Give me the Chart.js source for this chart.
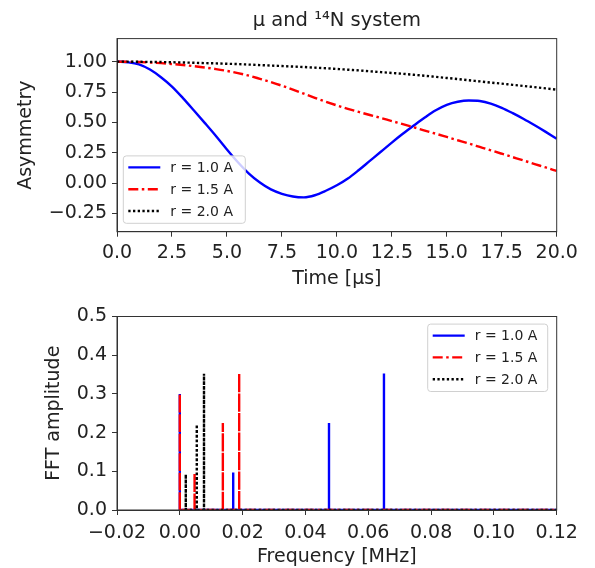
<!DOCTYPE html>
<html>
<head>
<meta charset="utf-8">
<script src="https://cdn.jsdelivr.net/npm/chart.js@4/dist/chart.umd.min.js"></script>
<style>
  body { margin: 0; background: #fff; }
  #top, #bottom { position: absolute; left: 0; }
  #top { top: 0; }
  #bottom { top: 290px; }
</style>
</head>
<body>
<div id="top"><canvas id="asymChart" width="595" height="290"></canvas></div>
<div id="bottom"><canvas id="fftChart" width="595" height="278"></canvas></div>
<script>
// time axis [us]
const timeUs = [0, 0.5, 1, 1.5, 2, 2.5, 3, 3.5, 4, 4.5, 5, 5.5, 6, 6.5, 7, 7.5, 8, 8.5, 9, 9.5,
  10, 10.5, 11, 11.5, 12, 12.5, 13, 13.5, 14, 14.5, 15, 15.5, 16, 16.5, 17, 17.5, 18, 18.5, 19, 19.5, 20];

const asymR10 = [1.000, 0.995, 0.978, 0.935, 0.872, 0.795, 0.700, 0.598, 0.494, 0.388,
  0.277, 0.172, 0.079, 0.005, -0.052, -0.088, -0.110, -0.117, -0.100, -0.063,
  -0.018, 0.038, 0.108, 0.183, 0.258, 0.334, 0.406, 0.474, 0.540, 0.600,
  0.645, 0.670, 0.680, 0.676, 0.655, 0.620, 0.576, 0.528, 0.476, 0.422, 0.366];

const asymR15 = [1.000, 0.999, 0.997, 0.993, 0.988, 0.981, 0.973, 0.963, 0.952, 0.939,
  0.924, 0.906, 0.885, 0.859, 0.832, 0.802, 0.770, 0.736, 0.702, 0.670,
  0.640, 0.612, 0.586, 0.561, 0.537, 0.511, 0.486, 0.460, 0.433, 0.407,
  0.380, 0.353, 0.326, 0.298, 0.270, 0.242, 0.214, 0.186, 0.157, 0.129, 0.100];

const asymR20 = [1.000, 1.000, 0.999, 0.998, 0.997, 0.995, 0.993, 0.991, 0.988, 0.986,
  0.983, 0.980, 0.976, 0.972, 0.968, 0.964, 0.960, 0.956, 0.951, 0.946,
  0.940, 0.934, 0.928, 0.921, 0.914, 0.907, 0.900, 0.892, 0.884, 0.875,
  0.866, 0.857, 0.847, 0.838, 0.828, 0.819, 0.809, 0.800, 0.790, 0.780, 0.770];

const asymTicks = [-0.25, 0, 0.25, 0.5, 0.75, 1.0];
const timeTicks = [0, 2.5, 5, 7.5, 10, 12.5, 15, 17.5, 20];

// FFT peaks: frequency [MHz] and amplitude
const fftFreqR10 = [0.0, 0.0170, 0.0475, 0.0650];
const fftAmpR10 = [0.300, 0.097, 0.225, 0.353];
const fftFreqR15 = [0.0, 0.0047, 0.0137, 0.0189];
const fftAmpR15 = [0.300, 0.095, 0.225, 0.353];
const fftFreqR20 = [0.0019, 0.0054, 0.0077];
const fftAmpR20 = [0.092, 0.221, 0.352];

const fftTicksY = [0, 0.1, 0.2, 0.3, 0.4, 0.5];
const freqTicks = [-0.02, 0, 0.02, 0.04, 0.06, 0.08, 0.1, 0.12];

const labels = ['r = 1.0 A', 'r = 1.5 A', 'r = 2.0 A'];

Chart.defaults.font.family = 'DejaVu Sans';
Chart.defaults.color = '#222';
Chart.defaults.animation = false;

const fmt = (v, d) => {
  if (Math.abs(v) < 1e-9) v = 0;
  return (v < 0 ? '\u2212' : '') + Math.abs(v).toFixed(d);
};

const toXY = (xs, ys) => xs.map((x, i) => ({x: x, y: ys[i]}));

// spikes from zero up to the peak and back, then flat line to the right edge
const fftPoints = (freqs, amps) => {
  const pts = [];
  freqs.forEach((f, i) => {
    pts.push({x: f, y: 0}, {x: f, y: amps[i]}, {x: f, y: 0});
  });
  pts.push({x: 0.13, y: 0});
  return pts;
};

// legend box drawn inside the axes, matplotlib style
const boxLegend = {
  id: 'boxLegend',
  afterDraw(chart, args, opts) {
    const ctx = chart.ctx;
    const area = chart.chartArea;
    const sets = chart.data.datasets;
    const w = opts.width, rowH = 21.8, h = sets.length * rowH + 2;
    const x = opts.corner === 'bl' ? area.left + 6.3 : area.right - 9 - w;
    const y = opts.corner === 'bl' ? area.bottom - 8.4 - h : area.top + 7.6;
    ctx.save();
    ctx.beginPath();
    ctx.roundRect(x, y, w, h, 3);
    ctx.fillStyle = 'rgba(255,255,255,0.8)';
    ctx.fill();
    ctx.strokeStyle = '#d0d0d0';
    ctx.lineWidth = 1;
    ctx.stroke();
    sets.forEach((ds, i) => {
      const cy = y + 11.5 + i * rowH;
      ctx.beginPath();
      ctx.setLineDash(ds.borderDash || []);
      ctx.strokeStyle = ds.borderColor;
      ctx.lineWidth = ds.borderWidth;
      ctx.moveTo(x + 5, cy);
      ctx.lineTo(x + 37, cy);
      ctx.stroke();
      ctx.setLineDash([]);
      ctx.fillStyle = '#222';
      ctx.font = '14px "DejaVu Sans"';
      ctx.textBaseline = 'middle';
      ctx.fillText(ds.label, x + 47, cy + 1);
    });
    ctx.restore();
  }
};

// full frame round the axes
const frame = {
  id: 'frame',
  afterDatasetsDraw(chart) {
    const {ctx, chartArea: a} = chart;
    ctx.save();
    ctx.strokeStyle = '#333';
    ctx.lineWidth = 1;
    ctx.strokeRect(a.left, a.top, a.right - a.left, a.bottom - a.top);
    ctx.restore();
  }
};

const tickFont = {size: 19};
const axisGrid = {drawOnChartArea: false, drawTicks: true, tickLength: 5, color: '#333'};
const axisBorder = {color: '#333'};

new Chart(document.getElementById('asymChart').getContext('2d'), {
  type: 'line',
  data: {
    datasets: [
      {label: labels[0], data: toXY(timeUs, asymR10), borderColor: '#0000ff', borderWidth: 2.4, order: 3},
      {label: labels[1], data: toXY(timeUs, asymR15), borderColor: '#ff0000', borderWidth: 2.4, borderDash: [10, 3.5, 2.5, 3.5], order: 2},
      {label: labels[2], data: toXY(timeUs, asymR20), borderColor: '#000000', borderWidth: 2.4, borderDash: [2.3, 2.4], order: 1}
    ]
  },
  options: {
    responsive: false,
    layout: {padding: {left: 0, right: 38.3, top: 0, bottom: 0}},
    elements: {point: {radius: 0}, line: {cubicInterpolationMode: 'monotone'}},
    plugins: {
      legend: {display: false},
      tooltip: {enabled: false},
      title: {
        display: true,
        text: 'μ and ¹⁴N system',
        fullSize: false,
        font: {size: 19.5, weight: 'normal'},
        padding: {top: 9.5, bottom: 5.7}
      },
      boxLegend: {corner: 'bl', width: 122}
    },
    scales: {
      x: {
        type: 'linear',
        min: 0,
        max: 20,
        afterBuildTicks: (axis) => { axis.ticks = timeTicks.map(v => ({value: v})); },
        afterFit: (axis) => { axis.height = 58.3; },
        ticks: {font: tickFont, padding: 5, maxRotation: 0, callback: (v) => fmt(v, 1)},
        grid: axisGrid,
        border: axisBorder,
        title: {display: true, text: 'Time [μs]', font: {size: 19}, padding: {top: 0, bottom: 0}}
      },
      y: {
        min: -0.4,
        max: 1.19,
        afterBuildTicks: (axis) => { axis.ticks = asymTicks.map(v => ({value: v})); },
        afterFit: (axis) => { axis.width = 117; },
        ticks: {font: tickFont, padding: 5, callback: (v) => fmt(v, 2)},
        grid: axisGrid,
        border: axisBorder,
        title: {display: true, text: 'Asymmetry', font: {size: 19}, padding: {top: 14.5, bottom: 0}}
      }
    }
  },
  plugins: [frame, boxLegend]
});

new Chart(document.getElementById('fftChart').getContext('2d'), {
  type: 'line',
  data: {
    datasets: [
      {label: labels[0], data: fftPoints(fftFreqR10, fftAmpR10), borderColor: '#0000ff', borderWidth: 2.4, order: 3},
      {label: labels[1], data: fftPoints(fftFreqR15, fftAmpR15), borderColor: '#ff0000', borderWidth: 2.4, borderDash: [10, 3.5, 2.5, 3.5], order: 2},
      {label: labels[2], data: fftPoints(fftFreqR20, fftAmpR20), borderColor: '#000000', borderWidth: 2.4, borderDash: [2.3, 2.4], order: 1}
    ]
  },
  options: {
    responsive: false,
    layout: {padding: {left: 0, right: 38.3, top: 26.5, bottom: 0}},
    elements: {point: {radius: 0}, line: {tension: 0}},
    plugins: {
      legend: {display: false},
      tooltip: {enabled: false},
      boxLegend: {corner: 'tr', width: 120}
    },
    scales: {
      x: {
        type: 'linear',
        min: -0.02,
        max: 0.12,
        afterBuildTicks: (axis) => { axis.ticks = freqTicks.map(v => ({value: v})); },
        afterFit: (axis) => { axis.height = 58; },
        ticks: {font: tickFont, padding: 7, maxRotation: 0, callback: (v) => fmt(v, 2)},
        grid: axisGrid,
        border: axisBorder,
        title: {display: true, text: 'Frequency [MHz]', font: {size: 19}, padding: {top: 0, bottom: 0}}
      },
      y: {
        min: 0,
        max: 0.5,
        afterBuildTicks: (axis) => { axis.ticks = fftTicksY.map(v => ({value: v})); },
        afterFit: (axis) => { axis.width = 117; },
        ticks: {font: tickFont, padding: 5, callback: (v) => fmt(v, 1)},
        grid: axisGrid,
        border: axisBorder,
        title: {display: true, text: 'FFT amplitude', font: {size: 19}, padding: {top: 42.5, bottom: 0}}
      }
    }
  },
  plugins: [frame, boxLegend]
});
</script>
</body>
</html>
